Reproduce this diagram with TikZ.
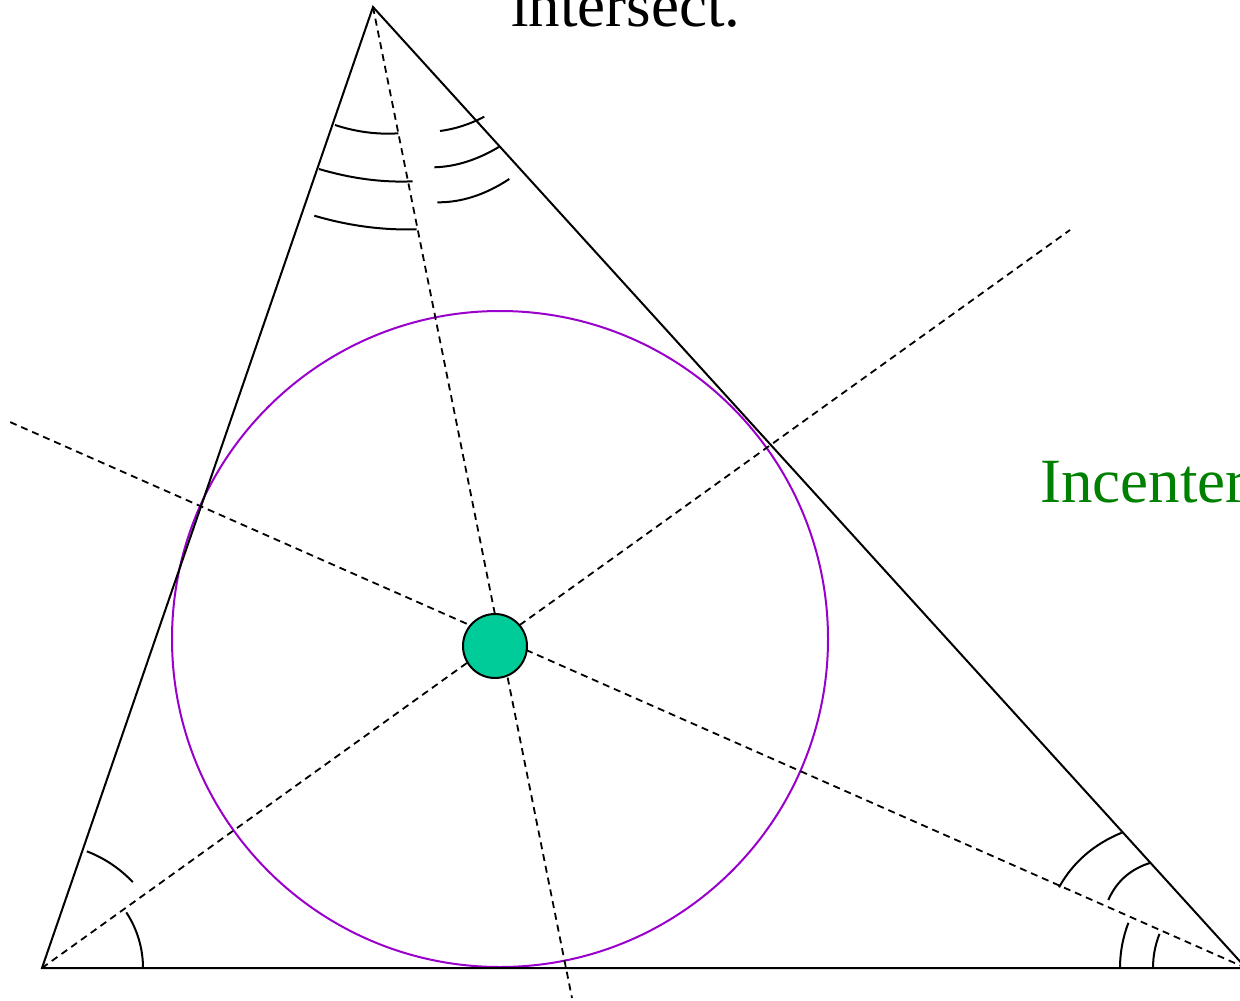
\documentclass[tikz,border=0pt]{standalone}
\usepackage{fontspec}
\setmainfont{Liberation Serif}
\usetikzlibrary{calc}
\definecolor{dotfill}{RGB}{0,204,153}
\definecolor{circpurple}{RGB}{153,0,204}
\definecolor{labgreen}{RGB}{0,128,0}
\newcommand{\qarc}[3]{\draw[anglemark] #1 .. controls ($#1!2/3!#2$) and ($#3!2/3!#2$) .. #3;}
\begin{document}
\begin{tikzpicture}[x=1pt,y=-1pt,
  side/.style={line width=2pt,black},
  bisect/.style={line width=1.8pt,black,dash pattern=on 7pt off 5pt},
  anglemark/.style={line width=2pt,black},
  incircle/.style={line width=2pt,circpurple},
  bigtext/.style={font=\fontsize{63}{75}\selectfont,inner sep=0pt,anchor=base west}]
\path[use as bounding box] (0,0) rectangle (1240,1001);
\clip (0,0) rectangle (1240,1001);
% vertices
\coordinate (A) at (42,968);
\coordinate (B) at (1246,968);
\coordinate (C) at (373,7);
% far ends of the bisectors
\coordinate (Aend) at (1070,230);
\coordinate (Bend) at (10,422);
\coordinate (Cend) at (572,998);
% incircle
\draw[incircle] (500,639) circle[radius=328];
% triangle
\draw[side] (A) -- (B) -- (C) -- cycle;
% bisectors
\draw[bisect] (A) -- (Aend);
\draw[bisect] (B) -- (Bend);
\draw[bisect] (C) -- (Cend);
% angle marks at A
\draw[anglemark] (143,968) arc[start angle=0,end angle=-33.4,radius=101];
\draw[anglemark] ($(A)+(-69:125)$) arc[start angle=-69,end angle=-43.4,radius=125];
% angle marks at B
\draw[anglemark] (1120,968) arc[start angle=180,end angle=201,radius=126];
\draw[anglemark] (1153,968) arc[start angle=180,end angle=201.5,radius=93];
\qarc{(1059,887.3)}{(1079.7,850)}{(1121.7,832.7)}
\qarc{(1108.3,900)}{(1120.5,872)}{(1150.7,862.7)}
% angle marks at C
\qarc{(335,125)}{(366.7,135.4)}{(398.3,133.3)}
\qarc{(319,169)}{(367.6,183.4)}{(412.7,181.3)}
\qarc{(314.3,215.7)}{(365.9,230.9)}{(416.7,229.3)}
\qarc{(440,131)}{(462.4,128.1)}{(484.3,116.7)}
\qarc{(434.3,167.3)}{(466.6,166.4)}{(499.3,146.7)}
\qarc{(437.3,202.3)}{(473.3,202.7)}{(509.3,179)}
% incenter
\node[circle,draw=black,line width=2pt,fill=dotfill,minimum size=64pt,inner sep=0pt] (I) at (495,646) {};
% labels
\node[bigtext] (top) at (511,27) {intersect.};
\node[bigtext,text=labgreen] (lab) at (1040,502) {Incenter};
\end{tikzpicture}
\end{document}
